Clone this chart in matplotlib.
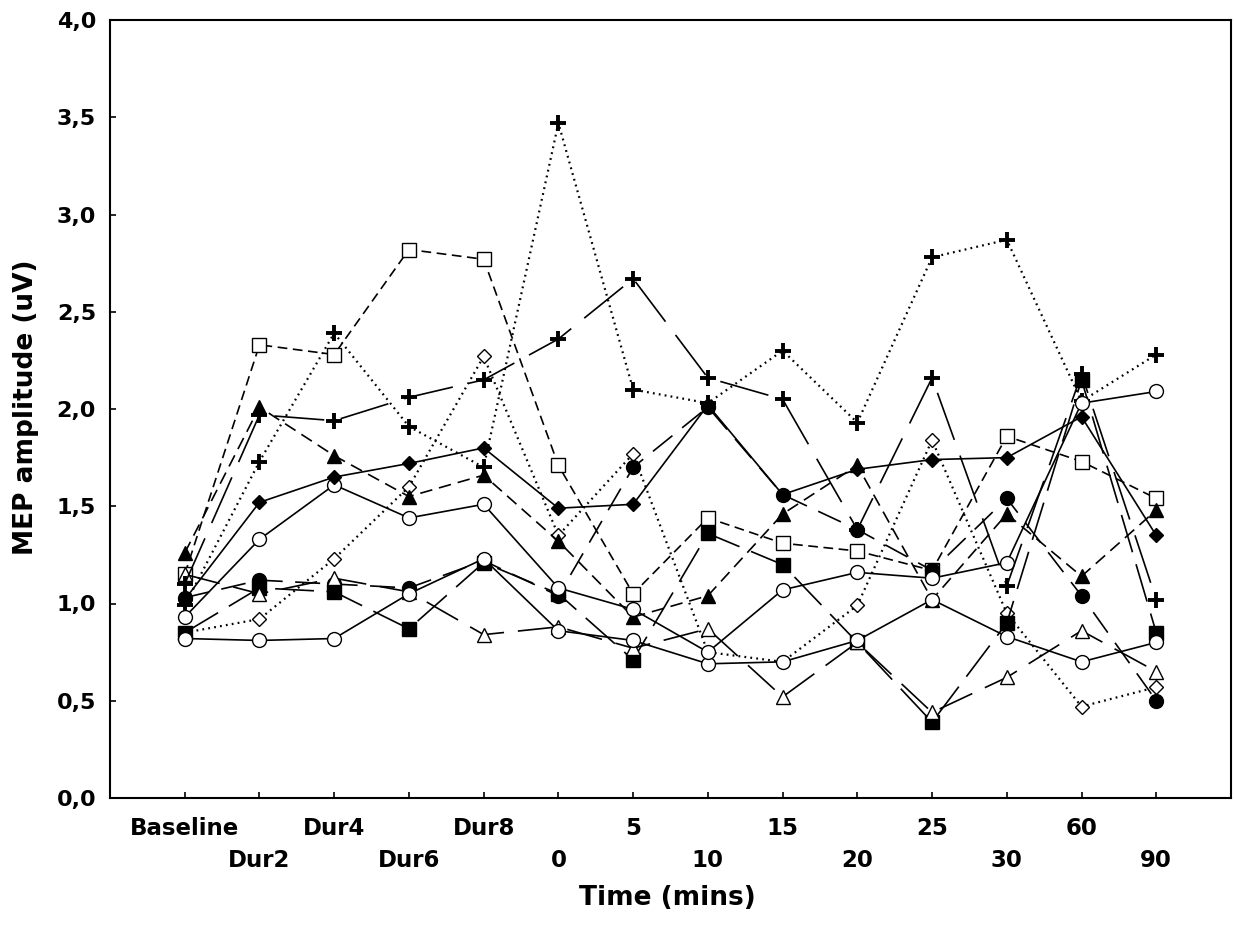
import matplotlib
matplotlib.use("Agg")
import matplotlib.pyplot as plt
import matplotlib.transforms as mtransforms

plt.rcParams['font.family'] = ['DejaVu Sans']
plt.rcParams['font.weight'] = 'bold'
plt.rcParams['lines.scale_dashes'] = False

time_labels = ["Baseline", "Dur2", "Dur4", "Dur6", "Dur8", "0", "5", "10",
               "15", "20", "25", "30", "60", "90"]

plus_dotted = [0.99, 1.73, 2.39, 1.91, 1.70, 3.47, 2.10, 2.03, 2.30, 1.93, 2.78, 2.87, 2.04, 2.28]
plus_longdash = [1.10, 1.97, 1.94, 2.06, 2.15, 2.36, 2.67, 2.16, 2.05, 1.38, 2.16, 1.09, 2.18, 1.02]
open_square = [1.15, 2.33, 2.28, 2.82, 2.77, 1.71, 1.05, 1.44, 1.31, 1.27, 1.17, 1.86, 1.73, 1.54]
filled_triangle = [1.26, 2.01, 1.76, 1.55, 1.66, 1.32, 0.93, 1.04, 1.46, 1.71, 1.02, 1.46, 1.14, 1.48]
filled_diamond = [1.02, 1.52, 1.65, 1.72, 1.80, 1.49, 1.51, 2.02, 1.56, 1.69, 1.74, 1.75, 1.96, 1.35]
open_diamond = [0.85, 0.92, 1.23, 1.60, 2.27, 1.35, 1.77, 0.75, 0.70, 0.99, 1.84, 0.95, 0.47, 0.57]
filled_circle = [1.03, 1.12, 1.10, 1.08, 1.22, 1.04, 1.70, 2.01, 1.56, 1.38, 1.17, 1.54, 1.04, 0.50]
filled_square = [0.85, 1.08, 1.06, 0.87, 1.21, 1.05, 0.71, 1.36, 1.20, 0.80, 0.39, 0.90, 2.15, 0.85]
open_triangle = [1.15, 1.05, 1.13, 1.06, 0.84, 0.88, 0.77, 0.87, 0.52, 0.80, 0.44, 0.62, 0.86, 0.65]
open_circle_a = [0.93, 1.33, 1.61, 1.44, 1.51, 1.08, 0.97, 0.75, 1.07, 1.16, 1.13, 1.21, 2.03, 2.09]
open_circle_b = [0.82, 0.81, 0.82, 1.05, 1.23, 0.86, 0.81, 0.69, 0.70, 0.81, 1.02, 0.83, 0.70, 0.80]

y_ticks = [0.0, 0.5, 1.0, 1.5, 2.0, 2.5, 3.0, 3.5, 4.0]

x = list(range(1, len(time_labels) + 1))

fig = plt.figure(figsize=(12.34, 9.27), dpi=100)
ax = fig.add_axes([110 / 1234, 1 - 798 / 927, (1231 - 110) / 1234, (798 - 20) / 927])

lw = 1.2
dot = (0, (1.3, 3.0))
series = [
    (open_diamond, 'D', 'white', 7.0, dot),
    (plus_dotted, '+', 'black', 11, dot),
    (open_square, 's', 'white', 10, (0, (7, 4))),
    (filled_triangle, '^', 'black', 10, (0, (9, 5))),
    (filled_circle, 'o', 'black', 10, (0, (18, 9))),
    (filled_square, 's', 'black', 9.5, (0, (28, 9))),
    (open_triangle, '^', 'white', 10, (0, (26, 10))),
    (open_circle_b, 'o', 'white', 10, '-'),
    (open_circle_a, 'o', 'white', 10, '-'),
    (filled_diamond, 'D', 'black', 7.5, '-'),
    (plus_longdash, '+', 'black', 11, (0, (36, 12))),
]

for vals, mk, fc, ms, ls in series:
    this_lw = 1.6 if ls is dot else lw
    if mk == '+':
        ax.plot(x, vals, linestyle=ls, color='black', linewidth=this_lw,
                marker='+', markersize=ms, markeredgewidth=2.8,
                markeredgecolor='black')
    else:
        ax.plot(x, vals, linestyle=ls, color='black', linewidth=this_lw,
                marker=mk, markersize=ms, markerfacecolor=fc,
                markeredgecolor='black', markeredgewidth=1.0)

ax.set_xlim(0, 15)
ax.set_ylim(0, 4.0)
ax.set_xticks(x)
ax.set_xticklabels([])
ax.set_yticks(y_ticks)
ax.set_yticklabels([f"{v:.1f}".replace('.', ',') for v in y_ticks])

for s in ax.spines.values():
    s.set_linewidth(1.5)

ax.tick_params(axis='both', direction='in', length=4, width=1.2)
ax.tick_params(axis='y', labelsize=16, pad=10)

trans = mtransforms.blended_transform_factory(ax.transData, ax.transAxes)
for i, lab in enumerate(time_labels):
    yrow = -0.0386 if i % 2 == 0 else -0.0797
    ax.text(x[i], yrow, lab, transform=trans, ha='center', va='center',
            fontsize=16.5, fontweight='bold')

fig.text(667 / 1234, 1 - 898 / 927, "Time (mins)", ha='center', va='center',
         fontsize=19, fontweight='bold')
fig.text(26 / 1234, 1 - 407 / 927, "MEP amplitude (uV)", ha='center', va='center',
         rotation=90, fontsize=19, fontweight='bold')

fig.savefig("out.png", dpi=100)
